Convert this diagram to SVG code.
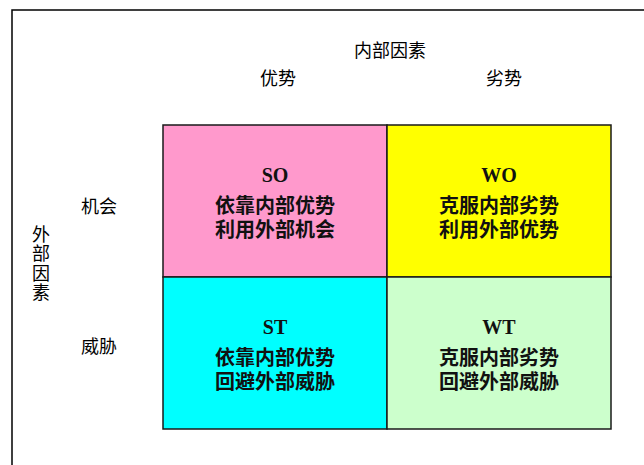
<svg xmlns="http://www.w3.org/2000/svg" width="644" height="465" viewBox="0 0 644 465">
<style>
.hdr{font-family:"Noto Sans CJK SC","Liberation Sans",sans-serif;font-size:18px;fill:#000;text-anchor:middle}
.vert{writing-mode:vertical-rl;letter-spacing:1.5px}
.cell{stroke:#1a1a1a;stroke-width:1.5}
.t{font-family:"Liberation Serif","Noto Sans CJK SC",serif;font-size:20px;font-weight:bold;fill:#111;text-anchor:middle}
.c{font-family:"Liberation Serif","Noto Sans CJK SC",serif;font-size:20px;font-weight:bold;fill:#111;text-anchor:middle}
</style>
<rect x="0" y="0" width="644" height="465" fill="#fff"/>
<rect x="12" y="10" width="650" height="480" fill="none" stroke="#000" stroke-width="1.5"/>
<g id="headers">
<text class="hdr" x="390" y="57">内部因素</text>
<text class="hdr" x="278" y="85">优势</text>
<text class="hdr" x="504" y="85">劣势</text>
<text class="hdr" x="99" y="213">机会</text>
<text class="hdr" x="99" y="353">威胁</text>
<text class="hdr vert" x="41" y="264">外部因素</text>
</g>
<g id="SO">
<rect class="cell" x="163" y="125" width="224" height="152" fill="#FF99CC"/>
<text class="t" x="275" y="182">SO</text>
<text class="c" x="275" y="213">依靠内部优势</text>
<text class="c" x="275" y="237">利用外部机会</text>
</g>
<g id="WO">
<rect class="cell" x="387" y="125" width="224" height="152" fill="#FFFF00"/>
<text class="t" x="499" y="182">WO</text>
<text class="c" x="499" y="213">克服内部劣势</text>
<text class="c" x="499" y="237">利用外部优势</text>
</g>
<g id="ST">
<rect class="cell" x="163" y="277" width="224" height="152" fill="#00FFFF"/>
<text class="t" x="275" y="334">ST</text>
<text class="c" x="275" y="365">依靠内部优势</text>
<text class="c" x="275" y="389">回避外部威胁</text>
</g>
<g id="WT">
<rect class="cell" x="387" y="277" width="224" height="152" fill="#CCFFCC"/>
<text class="t" x="499" y="334">WT</text>
<text class="c" x="499" y="365">克服内部劣势</text>
<text class="c" x="499" y="389">回避外部威胁</text>
</g>
<g id="connectors"></g>
</svg>
